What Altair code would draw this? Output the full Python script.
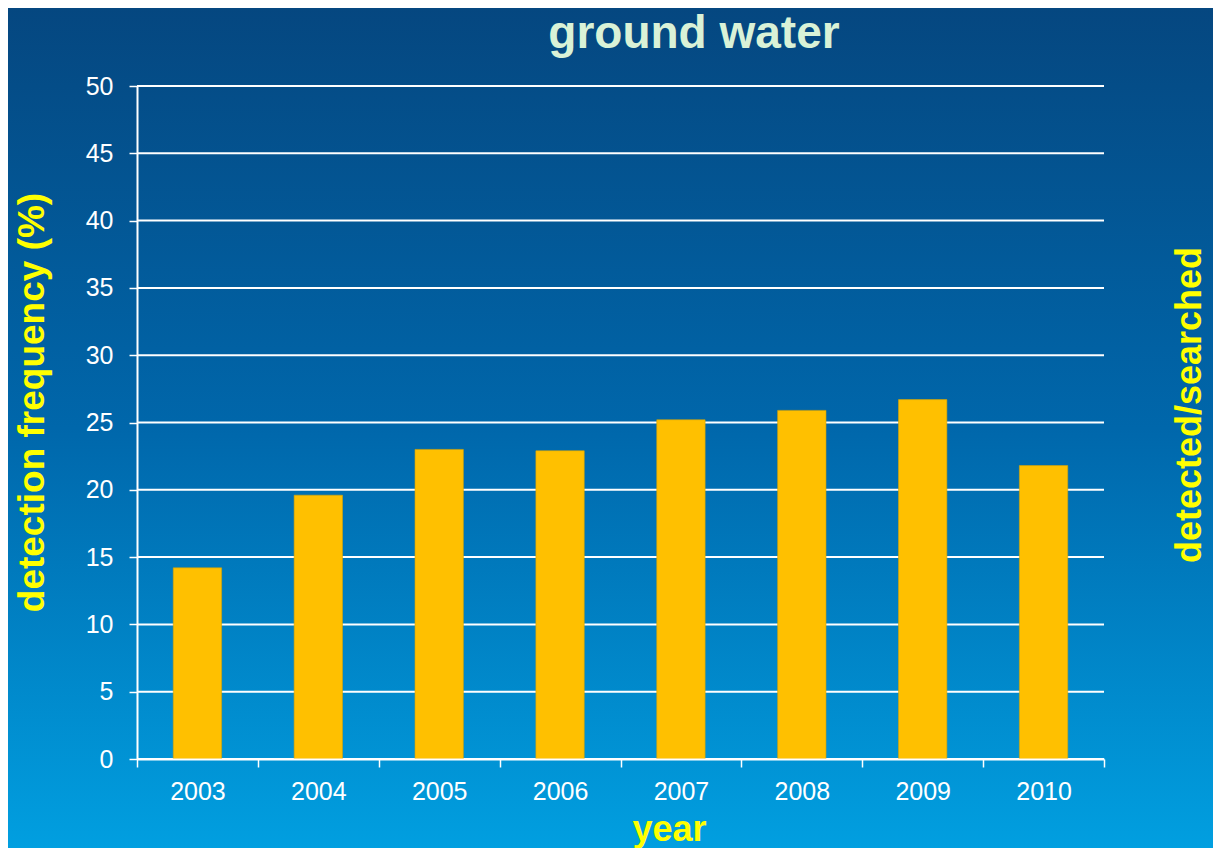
import altair as alt
import pandas as pd

# ---- data ----
years = ["2003", "2004", "2005", "2006", "2007", "2008", "2009", "2010"]
detection_freq = [14.2, 19.6, 23.0, 22.9, 25.2, 25.9, 26.7, 21.8]
y_ticks = [0, 5, 10, 15, 20, 25, 30, 35, 40, 45, 50]

title_text = "ground water"
x_title = "year"
y_title = "detection frequency (%)"
right_title = "detected/searched"

FONT = "Liberation Sans"
YELLOW = "#FFFF00"
W, H = 967, 673
PAD_L, PAD_T, PAD_R, PAD_B = 129, 78, 109, 89

df = pd.DataFrame({"year": years, "freq": detection_freq})
grid_df = pd.DataFrame({"freq": y_ticks})
one = pd.DataFrame({"k": [0]})

y_scale = alt.Scale(domain=[0, 50], nice=False)
y_axis = alt.Axis(
    title=y_title,
    values=y_ticks,
    grid=False,
    labelFont=FONT, labelFontSize=25, labelColor="white", labelPadding=16,
    tickColor="white", tickSize=8, tickWidth=1.5,
    domainColor="white", domainWidth=2,
    titleFont=FONT, titleFontSize=37, titleFontWeight="bold", titleColor=YELLOW,
    titleAngle=270, titleX=-94, titleY=316, titleBaseline="alphabetic",
    titleAlign="center",
    zindex=1,
)

bg = alt.Chart(one).mark_rect(
    fill=alt.LinearGradient(
        gradient="linear",
        x1=0, x2=0, y1=0, y2=1,
        stops=[
            alt.GradientStop(offset=0, color="#054780"),
            alt.GradientStop(offset=0.5, color="#0067ab"),
            alt.GradientStop(offset=1, color="#019fe0"),
        ],
    )
).encode(
    x=alt.value(-PAD_L), x2=alt.value(W + PAD_R),
    y=alt.value(-PAD_T), y2=alt.value(H + PAD_B),
)

grid = alt.Chart(grid_df).mark_rule(color="white", strokeWidth=2).encode(
    y=alt.Y("freq:Q", axis=y_axis, scale=y_scale),
)

bars = alt.Chart(df).mark_bar(
    color="#FFC000", stroke="#D9A400", strokeWidth=0.6, width=alt.RelativeBandSize(0.4)
).encode(
    x=alt.X(
        "year:O",
        sort=years,
        scale=alt.Scale(paddingInner=0, paddingOuter=0),
        axis=alt.Axis(
            title=x_title,
            labelAngle=0,
            tickBand="extent",
            grid=False,
            labelFont=FONT, labelFontSize=25, labelColor="white", labelPadding=12,
            tickColor="white", tickSize=8, tickWidth=1.5,
            domainColor="white", domainWidth=2,
            titleFont=FONT, titleFontSize=36, titleFontWeight="bold", titleColor=YELLOW,
            titleX=532, titleY=81, titleBaseline="alphabetic", titleAlign="center",
            zindex=1,
        ),
    ),
    y=alt.Y("freq:Q", scale=y_scale, axis=y_axis),
)

right_lbl = alt.Chart(one).mark_text(
    text=right_title, angle=270, font=FONT, fontSize=36, fontWeight="bold",
    color=YELLOW, baseline="alphabetic", align="center",
).encode(x=alt.value(1064), y=alt.value(319))

title_lbl = alt.Chart(one).mark_text(
    text=title_text, font=FONT, fontSize=46, fontWeight="bold",
    color="#d9f2d7", baseline="alphabetic", align="center",
).encode(x=alt.value(557), y=alt.value(-38))

chart = alt.layer(bg, grid, bars, right_lbl, title_lbl).properties(
    width=W, height=H,
    autosize=alt.AutoSizeParams(type="none"),
    padding={"left": PAD_L, "top": PAD_T, "right": PAD_R, "bottom": PAD_B},
    background="#0080c4",
).configure_view(stroke=None)

chart.save("out.html", embed_options={"renderer": "svg", "actions": False})
